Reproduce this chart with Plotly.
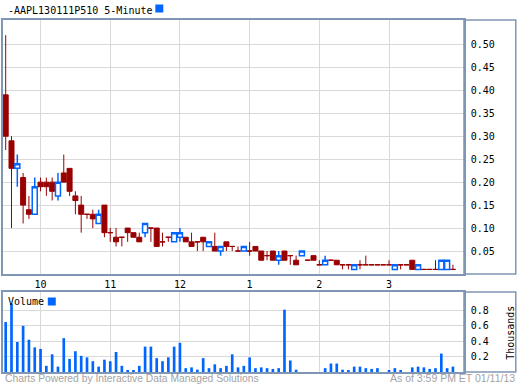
import plotly.graph_objects as go
import pandas as pd

# ---- data ----
times = pd.date_range("2013-01-11 09:30", periods=78, freq="5min")

opens = [0.39, 0.29, 0.23, 0.21, 0.14, 0.13, 0.20, 0.20, 0.20, 0.17,
         0.22, 0.23, 0.17, 0.15, 0.13, 0.13, 0.11, 0.15, 0.09, 0.08,
         0.08, 0.10, 0.09, 0.08, 0.09, 0.10, 0.10, 0.07, 0.08, 0.07,
         0.08, 0.08, 0.07, 0.07, 0.08, 0.06, 0.06, 0.05, 0.07, 0.06,
         0.05, 0.05, 0.05, 0.06, 0.05, 0.04, 0.05, 0.03, 0.05, 0.04,
         0.03, 0.04, 0.03, 0.04, 0.02, 0.02, 0.03, 0.03, 0.02, 0.02,
         0.01, 0.02, 0.02, 0.02, 0.02, 0.02, 0.02, 0.01, 0.02, 0.02,
         0.03, 0.01, 0.01, 0.01, 0.01, 0.01, 0.01, 0.01]
highs = [0.52, 0.30, 0.26, 0.22, 0.17, 0.21, 0.21, 0.21, 0.21, 0.22,
         0.26, 0.23, 0.18, 0.17, 0.13, 0.14, 0.14, 0.15, 0.10, 0.10,
         0.08, 0.10, 0.09, 0.09, 0.11, 0.10, 0.10, 0.09, 0.08, 0.09,
         0.10, 0.08, 0.09, 0.07, 0.08, 0.07, 0.09, 0.06, 0.07, 0.06,
         0.06, 0.06, 0.07, 0.06, 0.05, 0.05, 0.05, 0.05, 0.05, 0.04,
         0.04, 0.05, 0.03, 0.04, 0.03, 0.04, 0.03, 0.03, 0.02, 0.02,
         0.02, 0.03, 0.04, 0.02, 0.02, 0.02, 0.03, 0.02, 0.02, 0.02,
         0.03, 0.02, 0.01, 0.01, 0.03, 0.03, 0.03, 0.02]
lows = [0.27, 0.10, 0.19, 0.11, 0.12, 0.13, 0.18, 0.17, 0.16, 0.16,
        0.20, 0.17, 0.13, 0.09, 0.12, 0.10, 0.11, 0.08, 0.07, 0.06,
        0.06, 0.07, 0.08, 0.07, 0.08, 0.07, 0.06, 0.06, 0.07, 0.07,
        0.07, 0.07, 0.06, 0.05, 0.05, 0.06, 0.05, 0.04, 0.05, 0.05,
        0.05, 0.05, 0.04, 0.05, 0.03, 0.03, 0.03, 0.02, 0.03, 0.02,
        0.02, 0.04, 0.03, 0.03, 0.02, 0.02, 0.03, 0.02, 0.01, 0.01,
        0.01, 0.01, 0.02, 0.02, 0.02, 0.02, 0.02, 0.01, 0.01, 0.02,
        0.01, 0.01, 0.01, 0.01, 0.01, 0.01, 0.01, 0.01]
closes = [0.30, 0.23, 0.24, 0.15, 0.13, 0.19, 0.19, 0.19, 0.18, 0.20,
          0.20, 0.18, 0.16, 0.13, 0.13, 0.12, 0.13, 0.09, 0.09, 0.07,
          0.08, 0.09, 0.08, 0.07, 0.11, 0.10, 0.06, 0.07, 0.08, 0.09,
          0.09, 0.07, 0.06, 0.07, 0.07, 0.07, 0.05, 0.06, 0.06, 0.06,
          0.05, 0.06, 0.05, 0.05, 0.03, 0.04, 0.03, 0.04, 0.03, 0.04,
          0.02, 0.05, 0.03, 0.03, 0.02, 0.03, 0.03, 0.02, 0.02, 0.02,
          0.02, 0.02, 0.02, 0.02, 0.02, 0.02, 0.02, 0.02, 0.02, 0.02,
          0.01, 0.02, 0.01, 0.01, 0.01, 0.03, 0.03, 0.01]
volume_k = [0.65, 0.89, 0.39, 0.60, 0.42, 0.32, 0.30, 0.08, 0.23, 0.07,
            0.44, 0.17, 0.27, 0.21, 0.19, 0.14, 0.07, 0.16, 0.14, 0.26,
            0.08, 0.02, 0.02, 0.08, 0.33, 0.33, 0.18, 0.14, 0.19, 0.33,
            0.38, 0.05, 0.06, 0.03, 0.18, 0.05, 0.10, 0.05, 0.08, 0.23,
            0.06, 0.08, 0.19, 0.05, 0.06, 0.05, 0.04, 0.05, 0.81, 0.15,
            0.03, 0.00, 0.00, 0.00, 0.00, 0.05, 0.11, 0.11, 0.03, 0.02,
            0.07, 0.07, 0.05, 0.04, 0.05, 0.00, 0.02, 0.05, 0.02, 0.00,
            0.06, 0.07, 0.06, 0.04, 0.05, 0.24, 0.05, 0.07]
price_ticks = [0.05, 0.10, 0.15, 0.20, 0.25, 0.30, 0.35, 0.40, 0.45, 0.50]
volume_ticks = [0.2, 0.4, 0.6, 0.8]
hour_ticks = pd.date_range("2013-01-11 10:00", periods=6, freq="1h")

BLUE = "#0066ff"
RED = "#990000"
BORDER = "#7f96b4"
GRID = "#d9d9d9"
MONO = "DejaVu Sans Mono"
FOOT = "#a3a3a3"

up = [i for i in range(len(times)) if closes[i] > opens[i]]
dn = [i for i in range(len(times)) if closes[i] <= opens[i]]

def pick(arr, idx):
    return [arr[i] for i in idx]

fig = go.Figure()
fig.add_trace(go.Candlestick(
    x=pick(times, dn), open=pick(opens, dn), high=pick(highs, dn),
    low=pick(lows, dn), close=pick(closes, dn),
    increasing=dict(line=dict(color=RED, width=1), fillcolor=RED),
    decreasing=dict(line=dict(color=RED, width=1), fillcolor=RED),
    xaxis="x", yaxis="y", hoverinfo="skip", showlegend=False))
fig.add_trace(go.Candlestick(
    x=pick(times, up), open=pick(opens, up), high=pick(highs, up),
    low=pick(lows, up), close=pick(closes, up),
    increasing=dict(line=dict(color=BLUE, width=1.5), fillcolor="white"),
    decreasing=dict(line=dict(color=BLUE, width=1.5), fillcolor="white"),
    xaxis="x", yaxis="y", hoverinfo="skip", showlegend=False))
fig.add_trace(go.Bar(x=times, y=volume_k, marker=dict(color=BLUE, line=dict(width=0)),
                     xaxis="x2", yaxis="y2", hoverinfo="skip", showlegend=False))

W, H = 517, 384
L, R, T, B = 1, 53, 20, 12
pw, ph = W - L - R, H - T - B

def px(X):
    return (X - L) / pw

def py(Y):
    return (H - B - Y) / ph

main_dom = [py(274), 1.0]
vol_dom = [0.0, py(292)]
xrange_ = ["2013-01-11 09:27:41", "2013-01-11 16:04:32"]

axis_common = dict(showline=True, linecolor=BORDER, linewidth=1.5, mirror=True,
                   showgrid=True, gridcolor=GRID, gridwidth=1, zeroline=False)

fig.update_layout(
    width=W, height=H, margin=dict(l=L, r=R, t=T, b=B),
    paper_bgcolor="white", plot_bgcolor="white",
    boxgap=0.14, boxgroupgap=0, bargap=0.54,
    font=dict(family=MONO, size=10, color="black"),
    xaxis=dict(domain=[0, 1], anchor="y", type="date", range=xrange_,
               tickvals=hour_ticks, tickformat="%-I", ticks="",
               rangeslider=dict(visible=False),
               tickfont=dict(family=MONO, size=10), **axis_common),
    xaxis2=dict(domain=[0, 1], anchor="y2", type="date", range=xrange_, matches="x",
                tickvals=hour_ticks, showticklabels=False, ticks="", **axis_common),
    yaxis=dict(domain=main_dom, anchor="x", side="right", range=[0, 0.553],
               tickvals=price_ticks, tickformat=".2f", ticks="",
               ticklabelstandoff=3, **axis_common),
    yaxis2=dict(domain=vol_dom, anchor="x2", side="right", range=[0, 1.04],
                tickvals=volume_ticks, tickformat=".1f", ticks="",
                ticklabelstandoff=3, **axis_common),
)

shapes = []
# label-area frames on the right
for y0, y1 in [(main_dom[0], main_dom[1]), (vol_dom[0], vol_dom[1])]:
    shapes.append(dict(type="rect", xref="paper", yref="paper", x0=1.0, x1=px(516),
                       y0=y0, y1=y1, line=dict(color=BORDER, width=1.5)))
# legend squares
shapes.append(dict(type="rect", xref="paper", yref="paper", x0=px(154), x1=px(162),
                   y0=py(12.5), y1=py(4.5), fillcolor=BLUE, line=dict(width=0)))
shapes.append(dict(type="rect", xref="paper", yref="paper", x0=px(46), x1=px(54),
                   y0=py(305.5), y1=py(297.5), fillcolor=BLUE, line=dict(width=0)))
fig.update_layout(shapes=shapes)

ann = [
    dict(text="-AAPL130111P510 5-Minute", x=px(4), y=py(10), xanchor="left", yanchor="middle",
         font=dict(family=MONO, size=10, color="black")),
    dict(text="Volume", x=px(4), y=py(301.5), xanchor="left", yanchor="middle",
         font=dict(family=MONO, size=10, color="black")),
    dict(text="Thousands", x=px(510), y=py(333), xanchor="center", yanchor="middle",
         textangle=-90, font=dict(family=MONO, size=10, color="black")),
    dict(text="Charts Powered by Interactive Data Managed Solutions", x=px(1), y=py(378),
         xanchor="left", yanchor="middle", font=dict(family="Liberation Sans", size=10.3, color=FOOT)),
    dict(text="As of 3:59 PM ET 01/11/13", x=px(517), y=py(378),
         xanchor="right", yanchor="middle", font=dict(family="Liberation Sans", size=10.5, color=FOOT)),
]
for a in ann:
    a.update(xref="paper", yref="paper", showarrow=False)
fig.update_layout(annotations=ann)

fig.write_html("out.html")
